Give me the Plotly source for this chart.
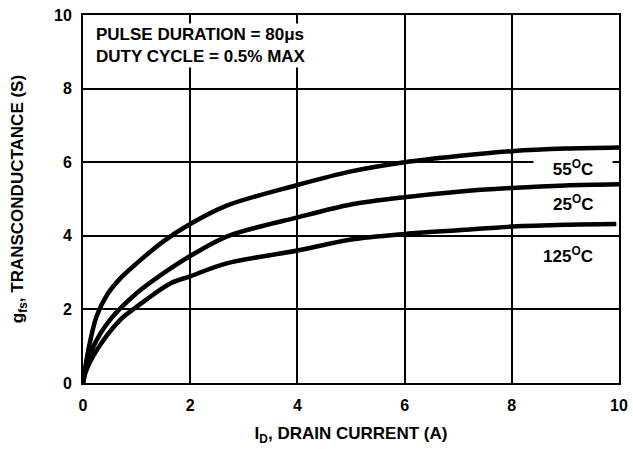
import plotly.graph_objects as go

# Drain current (A) and transconductance (S)
x_55 = [0, 0.04, 0.1, 0.25, 0.45, 0.7, 1.0, 1.5, 2.0, 2.68, 4.0, 5.0, 6.0, 7.0, 8.0, 9.0, 10.0]
y_55 = [0, 0.4, 0.9, 1.8, 2.4, 2.85, 3.25, 3.85, 4.32, 4.82, 5.38, 5.75, 6.0, 6.17, 6.3, 6.37, 6.4]

x_25 = [0, 0.05, 0.19, 0.5, 1.0, 1.62, 2.0, 2.68, 4.0, 5.0, 6.0, 7.0, 8.0, 9.0, 10.0]
y_25 = [0, 0.35, 0.98, 1.71, 2.44, 3.1, 3.45, 3.98, 4.5, 4.85, 5.05, 5.2, 5.3, 5.37, 5.4]

x_125 = [0, 0.05, 0.26, 0.69, 1.0, 1.62, 2.0, 2.68, 4.0, 5.0, 6.0, 7.0, 8.0, 9.0, 9.95]
y_125 = [0, 0.3, 0.9, 1.71, 2.07, 2.7, 2.9, 3.25, 3.6, 3.9, 4.05, 4.15, 4.25, 4.3, 4.32]

labels = ["55<sup>O</sup>C", "25<sup>O</sup>C", "125<sup>O</sup>C"]
label_x = [9.14, 9.14, 9.05]
label_y = [5.84, 4.89, 3.48]
label_w = [76, None, None]

FONT = "Liberation Sans, Arial, sans-serif"

fig = go.Figure()
for xs, ys in [(x_55, y_55), (x_25, y_25), (x_125, y_125)]:
    fig.add_trace(go.Scatter(x=xs, y=ys, mode="lines",
                             line=dict(color="black", width=4.5, shape="spline", smoothing=0.9),
                             showlegend=False, hoverinfo="skip"))

for t, lx, ly, w in zip(labels, label_x, label_y, label_w):
    fig.add_annotation(x=lx, y=ly, text=t, showarrow=False, bgcolor="white", width=w,
                       font=dict(family=FONT, size=17, color="black", weight="bold"),
                       borderpad=1)

fig.add_annotation(x=0.2, y=9.18, xanchor="left", yanchor="middle", align="left",
                   text="PULSE DURATION = 80μs<br>DUTY CYCLE = 0.5% MAX",
                   showarrow=False, bgcolor="white",
                   font=dict(family=FONT, size=17, color="black", weight="bold"))

axis_common = dict(showgrid=True, gridcolor="black", gridwidth=1.5,
                   showline=True, linecolor="black", linewidth=2, mirror=True,
                   zeroline=False, ticks="", automargin=False, ticklabeloverflow="allow",
                   tickfont=dict(family=FONT, size=16, color="black", weight="bold"))

fig.update_xaxes(range=[0, 10], tickvals=[0, 2, 4, 6, 8, 10], ticklabelstandoff=7,
                 title=dict(text="I<sub>D</sub>, DRAIN CURRENT (A)", standoff=14,
                            font=dict(family=FONT, size=17, color="black", weight="bold")),
                 **axis_common)
fig.update_yaxes(range=[0, 10], tickvals=[0, 2, 4, 6, 8, 10], ticklabelstandoff=6,
                 title=dict(text="g<sub>fs</sub>, TRANSCONDUCTANCE (S)", standoff=26,
                            font=dict(family=FONT, size=17, color="black", weight="bold")),
                 **axis_common)

fig.update_layout(width=633, height=449, margin=dict(l=83, r=14, t=15, b=66),
                  plot_bgcolor="white", paper_bgcolor="white")

# remove the default page-body margin so the figure fills the 633x449 window exactly
fig.write_html("out.html", config={"displayModeBar": False},
               post_script="document.body.style.margin='0';document.body.style.overflow='hidden';")
